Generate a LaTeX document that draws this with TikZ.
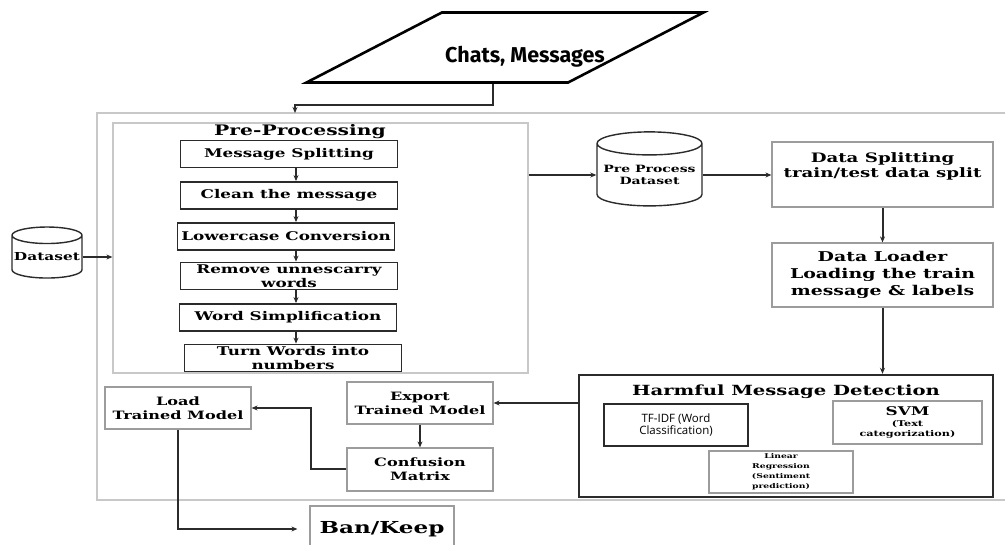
\documentclass[tikz,border=0pt]{standalone}
\usepackage{fontspec}
\usepackage{tikz}
\usetikzlibrary{arrows.meta,positioning,shapes.geometric}
\setmainfont{DejaVu Serif}
\newfontfamily\wideserif[FakeStretch=1.4]{DejaVu Serif}
\newfontfamily\headsans{Fira Sans}
\newfontfamily\plainsans{Open Sans}
\newcommand{\setfs}[2][1.25]{\fontsize{#2}{#1\dimexpr#2pt\relax}\selectfont}
\definecolor{pline}{HTML}{2B2B2B}
\definecolor{pframe}{HTML}{C8C8C8}
\definecolor{pgray}{HTML}{9C9C9C}

\begin{document}
\begin{tikzpicture}[x=1pt,y=-1pt,
  font=\wideserif\bfseries,
  ln/.style={draw=pline,line width=2pt},
  ar/.style={ln,-{Stealth[length=6pt,width=5pt]}},
  frm/.style={draw=pframe,line width=1.2pt,inner sep=0pt},
  stp/.style={draw=pline,line width=1.8pt,minimum width=217pt,minimum height=27pt,
              inner sep=1pt,align=center,font={\wideserif\bfseries\setfs[1.2]{12}}},
  blk/.style={draw=pgray,line width=1.2pt,align=center,inner sep=1pt},
  db/.style={cylinder,shape border rotate=90,aspect=0.25,draw=pline,line width=1.4pt,
             inner sep=0pt,align=center},
  para/.style={trapezium,trapezium left angle=43,trapezium right angle=137,
               trapezium stretches=true,draw=black,line width=2.6pt}]
\clip (0,0) rectangle (1005,545);

% ---- input and outer frame -------------------------------------------------
\node[para,minimum width=397pt,minimum height=70pt] (chatsbox) at (505,47.5) {};
\node[font=\headsans\bfseries\setfs{21.5}] (chats) at (525,57) {Chats, Messages};
\node[frm,minimum width=920pt,minimum height=387pt] (outer) at (557,306.5) {};
\coordinate (inlet) at (295,113);
\draw[ar] ([xshift=-12pt]chatsbox.south) |- ([yshift=8pt]inlet) -- (inlet);

% ---- pre-processing ----------------------------------------------------------
\node[frm,minimum width=415pt,minimum height=250pt] (pre) at (320.5,248) {};
\node[font=\wideserif\bfseries\setfs{14.5}] (pretitle) at (300,132) {Pre-Processing};
\node[stp] (s1) at (289,154)   {Message Splitting};
\node[stp] (s2) at (289,195.5) {Clean the message};
\node[stp] (s3) at (286,236.5) {Lowercase Conversion};
\node[stp] (s4) at (289,276)   {Remove unnescarry\\words};
\node[stp] (s5) at (288,317.5) {Word Simplification};
\node[stp] (s6) at (293,358)   {Turn Words into\\numbers};
\foreach \a/\b in {s1/s2,s2/s3,s3/s4,s4/s5,s5/s6}
  \draw[ar] (\a.south -| 296,0) -- (\b.north -| 296,0);

\node[db,minimum width=70pt,minimum height=51pt,font={\wideserif\bfseries\setfs{11}}]
  (dset) at (47,257) {Dataset};
\draw[ar] (dset.east) -- (dset.east -| pre.west);

% ---- dataset and training path ---------------------------------------------
\node[db,minimum width=105pt,minimum height=74pt,font={\wideserif\bfseries\setfs[1.15]{10}}]
  (ppd) at (649.5,175) {Pre Process\\Dataset};
\draw[ar] (ppd.west -| pre.east) -- (ppd.west);
\node[blk,minimum width=221pt,minimum height=65pt,font={\wideserif\bfseries\setfs[1.15]{13}}]
  (split) at (882.5,174.5) {Data Splitting\\train/test data split\\[4pt]};
\draw[ar] (ppd.east) -- (ppd.east -| split.west);
\node[blk,minimum width=221pt,minimum height=64pt,font={\wideserif\bfseries\setfs[1.25]{13.5}}]
  (loader) at (882.5,275) {Data Loader\\Loading the train\\message \& labels};
\draw[ar] (split.south) -- (loader.north);

% ---- detection ---------------------------------------------------------------
\node[draw=pline,line width=2.4pt,minimum width=414pt,minimum height=122pt]
  (harm) at (786,436) {};
\draw[ar] (loader.south) -- (loader.south |- harm.north);
\node[font={\wideserif\bfseries\setfs{14}}] (harmtitle) at (786,392)
  {Harmful Message Detection};
\node[draw=pline,line width=1.6pt,minimum width=144pt,minimum height=42pt,align=center,
      font={\plainsans\setfs[1.1]{11.5}}] (tfidf) at (676,425) {TF-IDF (Word\\Classification)};
\node[blk,minimum width=149pt,minimum height=43pt,font={\wideserif\bfseries\setfs[1.3]{8}}]
  (svm) at (907.5,422.5) {{\setfs{12}SVM}\\(Text\\categorization)};
\node[blk,minimum width=144pt,minimum height=42pt,font={\wideserif\bfseries\setfs[1.5]{6.6}}]
  (linreg) at (781,472) {Linear\\Regression\\(Sentiment\\prediction)};

% ---- model export and decision ---------------------------------------------
\node[blk,minimum width=146pt,minimum height=42pt,font={\wideserif\bfseries\setfs[1.2]{11.5}}]
  (export) at (420,403) {Export\\Trained Model};
\draw[ar] (export.east -| harm.west) -- (export.east);
\node[blk,minimum width=146pt,minimum height=43pt,font={\wideserif\bfseries\setfs[1.2]{11.5}}]
  (conf) at (420,469.5) {Confusion\\Matrix};
\draw[ar] (export.south) -- (conf.north);
\node[blk,minimum width=146pt,minimum height=42pt,font={\wideserif\bfseries\setfs[1.2]{11.5}}]
  (load) at (178,408) {Load\\Trained Model};
\draw[ar] (conf.west) -- ++(-35,0) |- (load.east);
\node[blk,minimum width=144pt,minimum height=46pt,font={\wideserif\bfseries\setfs{16.5}}]
  (ban) at (382,529) {Ban/Keep};
\draw[ar,shorten >=12pt] (load.south) |- (ban.west);
\end{tikzpicture}
\end{document}
